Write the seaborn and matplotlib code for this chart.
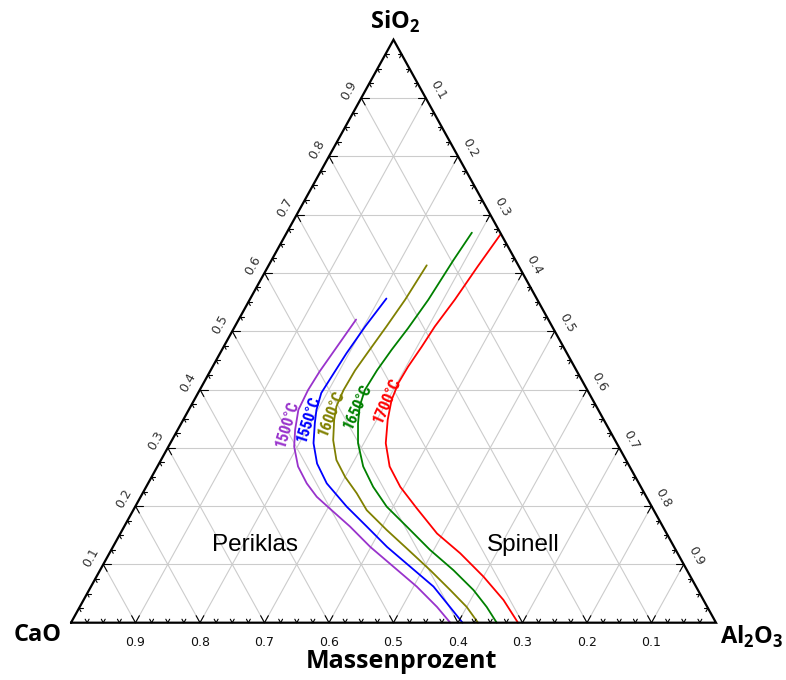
import numpy as np
import pandas as pd
import matplotlib
matplotlib.use("Agg")
import matplotlib.pyplot as plt
import seaborn as sns

# Liquidus isotherms in the CaO-Al2O3-SiO2 system (mass fractions)
temps = ["1500°C", "1550°C", "1600°C", "1650°C", "1700°C"]
colors = ["#9933cc", "#0000ff", "#808000", "#008000", "#ff0000"]

sio2_1500 = [0.520, 0.468, 0.431, 0.399, 0.365, 0.331, 0.302, 0.268, 0.239, 0.216,
             0.196, 0.165, 0.130, 0.096, 0.062, 0.027, 0.000]
cao_1500 = [0.298, 0.357, 0.399, 0.433, 0.465, 0.487, 0.503, 0.514, 0.515, 0.511,
            0.501, 0.485, 0.471, 0.452, 0.433, 0.419, 0.412]

sio2_1550 = [0.556, 0.508, 0.462, 0.422, 0.394, 0.365, 0.342, 0.308, 0.273, 0.239,
             0.199, 0.165, 0.130, 0.096, 0.062, 0.027, 0.000]
cao_1550 = [0.233, 0.290, 0.342, 0.385, 0.415, 0.437, 0.451, 0.470, 0.482, 0.484,
            0.473, 0.459, 0.445, 0.426, 0.407, 0.399, 0.393]

sio2_1600 = [0.613, 0.554, 0.508, 0.468, 0.433, 0.399, 0.371, 0.348, 0.313, 0.279,
             0.250, 0.222, 0.193, 0.159, 0.128, 0.090, 0.056, 0.027, 0.000]
cao_1600 = [0.142, 0.205, 0.257, 0.303, 0.343, 0.378, 0.403, 0.418, 0.437, 0.449,
            0.450, 0.446, 0.445, 0.431, 0.416, 0.398, 0.384, 0.373, 0.369]

sio2_1650 = [0.669, 0.622, 0.554, 0.505, 0.468, 0.433, 0.399, 0.371, 0.342, 0.308,
             0.268, 0.233, 0.199, 0.165, 0.125, 0.090, 0.056, 0.027, 0.000]
cao_1650 = [0.044, 0.096, 0.169, 0.225, 0.269, 0.309, 0.345, 0.367, 0.384, 0.401,
            0.413, 0.415, 0.411, 0.397, 0.381, 0.362, 0.348, 0.342, 0.340]

sio2_1700 = [0.667, 0.611, 0.554, 0.508, 0.473, 0.439, 0.411, 0.382, 0.348, 0.308,
             0.268, 0.233, 0.197, 0.153, 0.119, 0.079, 0.039, 0.000]
cao_1700 = [0.000, 0.064, 0.128, 0.182, 0.220, 0.258, 0.287, 0.312, 0.335, 0.358,
            0.372, 0.373, 0.366, 0.356, 0.337, 0.321, 0.310, 0.307]

sio2_sets = [sio2_1500, sio2_1550, sio2_1600, sio2_1650, sio2_1700]
cao_sets = [cao_1500, cao_1550, cao_1600, cao_1650, cao_1700]

tick_values = [0.1, 0.2, 0.3, 0.4, 0.5, 0.6, 0.7, 0.8, 0.9]
tick_labels = ["0.1", "0.2", "0.3", "0.4", "0.5", "0.6", "0.7", "0.8", "0.9"]

# Scale of the drawing: pixels per unit along the base and along the height
SX, SY = 645.0, 583.0


def tern(cao, sio2):
    """Ternary composition -> cartesian (CaO left, Al2O3 right, SiO2 top)."""
    cao = np.asarray(cao, dtype=float)
    sio2 = np.asarray(sio2, dtype=float)
    al2o3 = 1.0 - cao - sio2
    return al2o3 + sio2 / 2.0, sio2


def off(x, y, dx, dy):
    """Shift a cartesian point by an offset given in pixels (dy up)."""
    return x + dx / SX, y + dy / SY


def at_px(px, py):
    """Cartesian position of a point given in figure pixels (y down)."""
    return (px - 71) / SX, (622.7 - py) / SY


sns.set_theme(style="white")
plt.rcParams["font.family"] = ["DejaVu Sans"]
plt.rcParams["text.color"] = "black"

fig = plt.figure(figsize=(7.86, 6.80), dpi=100)
ax = fig.add_axes([0, 0, 1, 1])
ax.set_axis_off()
ax.set_xlim(-71 / SX, 715 / SX)
ax.set_ylim(-57.3 / SY, 622.7 / SY)

# Grid lines of constant SiO2, CaO and Al2O3
grid_kw = dict(color="#cccccc", lw=0.8, zorder=1)
for v in tick_values:
    x, y = tern([1 - v, 0], [v, v])
    ax.plot(x, y, **grid_kw)
    x, y = tern([v, v], [0, 1 - v])
    ax.plot(x, y, **grid_kw)
    x, y = tern([1 - v, 0], [0, 1 - v])
    ax.plot(x, y, **grid_kw)

# Triangle outline
x, y = tern([1, 0, 0, 1], [0, 0, 1, 0])
ax.plot(x, y, color="black", lw=1.6, zorder=4, solid_joinstyle="miter")

# Small inward tick marks every 0.025 along the three edges
for k in range(1, 40):
    v = k * 0.025
    d = 0.012 if k % 4 == 0 else 0.006
    # bottom edge (SiO2 = 0), CaO = v
    segs = [([v, v - d], [0, d]), ([v, v], [0, d])]
    # left edge (Al2O3 = 0), SiO2 = v
    segs += [([1 - v, 1 - v - d], [v, v]), ([1 - v, 1 - v], [v, v - d])]
    # right edge (CaO = 0), SiO2 = 1 - v
    segs += [([0, d], [1 - v, 1 - v]), ([0, d], [1 - v, 1 - v - d])]
    for c, s in segs:
        x, y = tern(c, s)
        ax.plot(x, y, color="black", lw=0.8, zorder=4)

# Edge labels
for v, t in zip(tick_values, tick_labels):
    bx, by = tern(v, 0.0)
    ax.text(*off(bx, by, 0, -20), t, fontsize=9, color="#111111",
            ha="center", va="center")
    lx, ly = tern(1 - v, v)
    ax.text(*off(lx, ly, -12, 7), t, rotation=61, rotation_mode="anchor",
            fontsize=9, color="#333333", ha="center", va="center")
    rx, ry = tern(0.0, 1 - v)
    ax.text(*off(rx, ry, 12, 8), t, rotation=-61, rotation_mode="anchor",
            fontsize=9, color="#333333", ha="center", va="center")

# Isotherms
rows = []
for t, s_list, c_list in zip(temps, sio2_sets, cao_sets):
    xs, ys = tern(c_list, s_list)
    for i, (xv, yv) in enumerate(zip(xs, ys)):
        rows.append({"T": t, "i": i, "x": xv, "y": yv})
df = pd.DataFrame(rows)
sns.lineplot(data=df, x="x", y="y", hue="T", palette=dict(zip(temps, colors)),
             estimator=None, sort=False, legend=False, lw=1.3, ax=ax, zorder=3)

# Isotherm labels (pixel centre, rotation)
label_pos = [(287.5, 424, 73), (309, 419, 72), (331.7, 413, 68),
             (357.5, 406, 65), (387.5, 400, 66)]
for t, col, (px, py, rot) in zip(temps, colors, label_pos):
    ax.text(*at_px(px, py), t, color=col, rotation=rot,
            rotation_mode="anchor", ha="center", va="center", fontsize=11.5,
            fontweight="bold", fontstyle="normal", fontstretch="condensed",
            family=["Roboto Condensed", "Roboto", "DejaVu Sans"], zorder=5)

# Phase fields
ax.text(*at_px(255, 545), "Periklas", fontsize=17.5,
        family=["Liberation Sans", "DejaVu Sans"], ha="center", va="center")
ax.text(*at_px(523, 545), "Spinell", fontsize=17.5,
        family=["Liberation Sans", "DejaVu Sans"], ha="center", va="center")

# Component names and axis title
big = dict(fontsize=17, fontweight="bold", family=["Open Sans", "DejaVu Sans"],
           ha="center", va="center")
ax.text(*at_px(395, 22), r"SiO$_\mathregular{2}$", **big)
ax.text(*at_px(38, 635), "CaO", **big)
ax.text(*at_px(752, 637), r"Al$_\mathregular{2}$O$_\mathregular{3}$", **big)
ax.text(*at_px(401, 662), "Massenprozent", fontsize=18, fontweight="bold",
        family=["Open Sans", "DejaVu Sans"], ha="center", va="center")

fig.savefig("out.png", dpi=100, facecolor="white")
